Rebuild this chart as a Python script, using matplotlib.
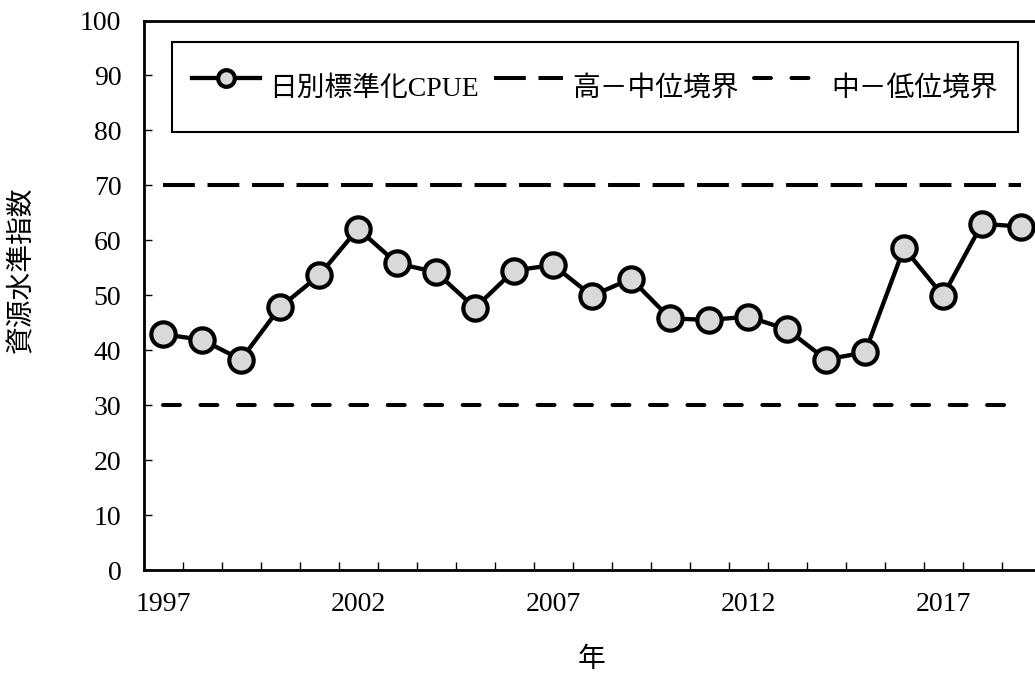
import numpy as np
import matplotlib
matplotlib.use('Agg')
from matplotlib import pyplot as plt
from matplotlib.lines import Line2D

plt.rcParams['font.family'] = ['Liberation Serif', 'Noto Sans CJK JP']
plt.rcParams['font.size'] = 19

years = np.arange(1997, 2020)
cpue = [42.9, 41.9, 38.3, 47.8, 53.6, 62.1, 55.8, 54.2, 47.7, 54.5, 55.5,
        49.9, 53.0, 45.8, 45.5, 46.1, 43.8, 38.3, 39.6, 58.6, 49.9, 63.0, 62.5]
high_mid = 70
mid_low = 30
label_years = [1997, 2002, 2007, 2012, 2017]

W, H = 1035, 676
fig = plt.figure(figsize=(W / 100, H / 100), dpi=100)
# 軸は右端が画像の外に出る（元画像が切れている）
ax = fig.add_axes([143.5 / W, 106 / H, 897 / W, 549.5 / H])

ax.plot([years[0], years[-1]], [high_mid, high_mid], color='black', lw=2.9,
        dashes=(7.9, 3.15), dash_capstyle='butt')
ax.plot([years[0], years[-1]], [mid_low, mid_low], color='black', lw=2.9,
        dashes=(4.2, 5.1), dash_capstyle='round')
ax.plot(years, cpue, color='black', lw=3.1, marker='o', ms=17.5, mew=3.0,
        mfc='#d9d9d9', mec='black', zorder=3)

ax.set_xlim(1996.5, 2019.5)
ax.set_ylim(0, 100)
ax.set_yticks(np.arange(0, 101, 10))
ax.set_xticks(label_years)
ax.set_xticks(np.arange(1997.5, 2019.5, 1), minor=True)
ax.tick_params(axis='x', which='major', length=0, pad=16, labelsize=20)
ax.tick_params(axis='x', which='minor', direction='in', length=5.5, width=1)
ax.tick_params(axis='y', direction='in', length=6, width=1, pad=16, labelsize=20)
for s in ax.spines.values():
    s.set_linewidth(2)

fig.text(22 / W, 1 - 270 / H, '資源水準指数', rotation=90, ha='center', va='center', fontsize=20)
fig.text(592 / W, 1 - 660 / H, '年', ha='center', va='center', fontsize=20)

handles = [
    Line2D([], [], color='black', lw=3.1, marker='o', ms=12, mew=3.0, mfc='#d9d9d9', mec='black'),
    Line2D([], [], color='black', lw=2.9, dashes=(7.9, 3.15)),
    Line2D([], [], color='black', lw=2.9, dashes=(4.2, 5.1), dash_capstyle='round'),
]
labels = ['日別標準化CPUE', '高－中位境界', '中－低位境界']
leg = ax.legend(handles, labels, ncol=3, loc='center',
                bbox_to_anchor=(595 / W, 1 - 87 / H), bbox_transform=fig.transFigure,
                fontsize=20, frameon=True, fancybox=False, edgecolor='black',
                framealpha=1, handlelength=2.45, handleheight=2.45, borderpad=0.7,
                handletextpad=0.35, columnspacing=0.55)
leg.get_frame().set_linewidth(1.5)

fig.savefig('out.png', dpi=100)
